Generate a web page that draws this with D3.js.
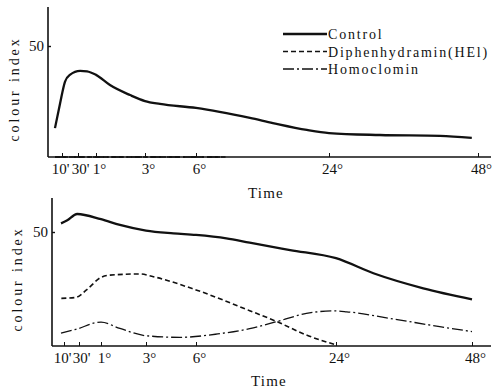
<!DOCTYPE html>
<html>
<head>
<meta charset="utf-8">
<script src="https://cdn.jsdelivr.net/npm/d3@7"></script>
<style>
  body { margin: 0; background: #fff; }
  svg { display: block; }
  text { font-family: "Liberation Serif", "DejaVu Serif", serif; fill: #111; }
</style>
</head>
<body>
<div id="chart"></div>
<script>
const width = 493;
const height = 390;

// time axis, hours
const tickHours = [1/6, 0.5, 1, 3, 6, 24, 48];
const tickLabels = ["10'", "30'", "1°", "3°", "6°", "24°", "48°"];
const yTicks = [50];

const seriesNames = ['Control', 'Diphenhydramin(HEl)', 'Homoclomin'];

// upper panel
const topControlHours = [0.083, 0.143, 0.23, 0.33, 0.56, 0.75, 1, 1.57, 2.39, 3, 3.88, 6, 13.3, 16.4, 21, 24, 32.2, 41.9, 47];
const topControl = [13, 24, 34, 37, 38.8, 38.6, 37, 32.4, 27.9, 25.2, 23.9, 22.1, 17.6, 15.3, 12.2, 10.8, 9.9, 9.5, 8.6];
const topOtherHours = [0.083, 10];
const topDiph = [0, 0];
const topHomo = [0, 0];

// lower panel
const botControlHours = [0.125, 0.23, 0.46, 1, 1.84, 3, 4.64, 6, 9.9, 12.9, 18.1, 24, 30.6, 39.4, 48];
const botControl = [53.8, 55, 57.9, 55.6, 53.1, 50.6, 49.4, 48.7, 47.2, 45.3, 42.1, 38.5, 31.9, 25.3, 20.5];
const botDiphHours = [0.13, 0.43, 0.67, 1, 1.4, 2.73, 3.44, 6, 12.9, 16.4, 20.2, 24];
const botDiph = [20.9, 21.3, 24.6, 30.1, 31.1, 31.6, 30.4, 24.6, 15.5, 10.7, 4.8, 0.5];
const botHomoHours = [0.125, 0.43, 1, 1.84, 3, 5.04, 8.8, 12.9, 16.4, 20.2, 23.6, 25.9, 33.5, 42.3, 48];
const botHomo = [5.6, 7.3, 10.5, 7.7, 4.5, 3.8, 5.3, 7.6, 10.7, 14.3, 15.4, 15, 12.1, 8.5, 6.3];

const styles = [
  {dash: null, width: 2.3},
  {dash: '5,3', width: 1.6},
  {dash: '11,3,2,3', width: 1.3}
];
// small sideways nudges so the crowded labels at the start don't collide
const labelNudge = [-2, 2, 3, 3, 3, 3, 3];

const svg = d3.select('#chart')
  .append('svg')
  .attr('width', width)
  .attr('height', height);

function zip(hours, values) {
  return hours.map((h, i) => ({h: h, v: values[i]}));
}

function drawPanel(p) {
  // the time axis of the original is stretched by hand, so piecewise linear
  const x = d3.scaleLinear()
    .domain([0].concat(tickHours))
    .range(p.xRange);
  const y = d3.scaleLinear()
    .domain([0, 50])
    .range([p.y0, p.y50]);

  const g = svg.append('g');

  // y axis line
  g.append('line')
    .attr('x1', p.xRange[0]).attr('x2', p.xRange[0])
    .attr('y1', p.yTop).attr('y2', p.y0)
    .attr('stroke', '#111').attr('stroke-width', 1.6);

  const yAxis = d3.axisLeft(y)
    .tickValues(yTicks)
    .tickSizeInner(-3)
    .tickSizeOuter(0)
    .tickPadding(4);
  const ya = g.append('g')
    .attr('transform', 'translate(' + p.xRange[0] + ',0)')
    .call(yAxis);
  ya.select('.domain').remove();
  ya.selectAll('line').attr('stroke', '#111').attr('stroke-width', 1.4);
  ya.selectAll('text')
    .style('font-family', '"Liberation Serif", serif')
    .style('font-size', '15px')
    .attr('fill', '#111');

  // x axis line runs past the last tick
  g.append('line')
    .attr('x1', p.xRange[0]).attr('x2', 491)
    .attr('y1', p.y0).attr('y2', p.y0)
    .attr('stroke', '#111').attr('stroke-width', 1.6);

  const xAxis = d3.axisBottom(x)
    .tickValues(tickHours)
    .tickFormat((d, i) => tickLabels[i])
    .tickSizeInner(-4)
    .tickSizeOuter(0)
    .tickPadding(6);
  const xa = g.append('g')
    .attr('transform', 'translate(0,' + p.y0 + ')')
    .call(xAxis);
  xa.select('.domain').remove();
  xa.selectAll('line').attr('stroke', '#111').attr('stroke-width', 1);
  xa.selectAll('text')
    .style('font-family', '"Liberation Serif", serif')
    .style('font-size', '15px')
    .attr('dx', (d, i) => labelNudge[i])
    .attr('fill', '#111');

  // axis titles
  g.append('text')
    .attr('transform', 'translate(' + p.yLabelX + ',' + p.yLabelY + ') rotate(-90)')
    .attr('text-anchor', 'middle')
    .style('font-size', '14px')
    .style('letter-spacing', '2.9px')
    .text('colour index');

  g.append('text')
    .attr('x', p.timeX)
    .attr('y', p.timeY)
    .style('font-size', '15px')
    .style('letter-spacing', '1.2px')
    .text('Time');

  const line = d3.line()
    .x(d => x(d.h))
    .y(d => y(d.v))
    .curve(d3.curveMonotoneX);

  p.series.forEach((s, i) => {
    g.append('path')
      .datum(s)
      .attr('d', line)
      .attr('fill', 'none')
      .attr('stroke', '#111')
      .attr('stroke-width', styles[i].width)
      .attr('stroke-dasharray', styles[i].dash);
  });
}

drawPanel({
  xRange: [48, 62, 78, 96, 145, 196, 329, 478],
  y0: 157, y50: 46, yTop: 7,
  yLabelX: 19, yLabelY: 89,
  timeX: 248, timeY: 198,
  series: [zip(topControlHours, topControl), zip(topOtherHours, topDiph), zip(topOtherHours, topHomo)]
});

drawPanel({
  xRange: [52, 64, 79, 101, 146, 196, 336, 472],
  y0: 346, y50: 232, yTop: 198,
  yLabelX: 22, yLabelY: 279,
  timeX: 251, timeY: 386,
  series: [zip(botControlHours, botControl), zip(botDiphHours, botDiph), zip(botHomoHours, botHomo)]
});

// legend
const legend = svg.append('g')
  .attr('transform', 'translate(283,34)');

seriesNames.forEach((name, i) => {
  const row = legend.append('g').attr('transform', 'translate(0,' + (i * 17.5) + ')');
  row.append('line')
    .attr('x1', 0).attr('x2', 44)
    .attr('stroke', '#111')
    .attr('stroke-width', styles[i].width)
    .attr('stroke-dasharray', styles[i].dash);
  row.append('text')
    .attr('x', 45)
    .attr('y', 5)
    .style('font-size', '14px')
    .style('letter-spacing', '1.8px')
    .text(name);
});
</script>
</body>
</html>
